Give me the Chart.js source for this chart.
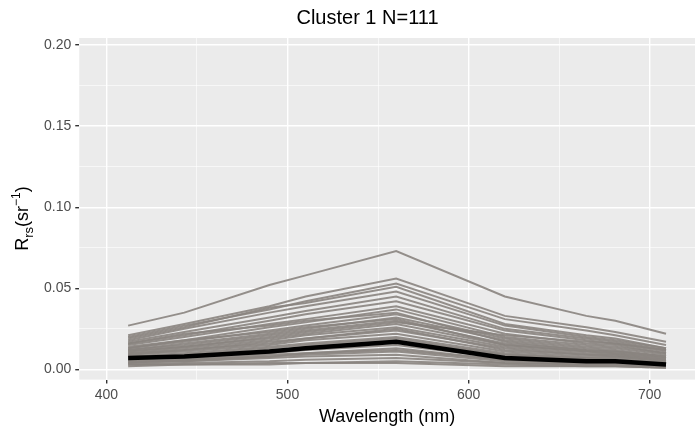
<!DOCTYPE html>
<html>
<head>
<meta charset="utf-8">
<script src="https://cdn.jsdelivr.net/npm/chart.js@4/dist/chart.umd.min.js"></script>
<style>body{margin:0;background:#fff}#wrap{width:700px;height:432px}</style>
</head>
<body>
<div id="wrap"><canvas id="c"></canvas></div>
<script>
var wavelengths = [412, 443, 490, 510, 560, 620, 665, 681, 709];

// individual spectra (Rrs, sr^-1)
var spectra = [
    [0.027, 0.035, 0.052, 0.058, 0.073, 0.045, 0.033, 0.030, 0.022],
    [0.021, 0.028, 0.039, 0.045, 0.056, 0.033, 0.026, 0.023, 0.017],
    [0.020, 0.027, 0.037, 0.042, 0.053, 0.031, 0.024, 0.021, 0.015],
    [0.019, 0.026, 0.038, 0.041, 0.051, 0.028, 0.021, 0.019, 0.013],
    [0.018, 0.025, 0.035, 0.039, 0.048, 0.027, 0.020, 0.018, 0.013],
    [0.017, 0.023, 0.032, 0.036, 0.045, 0.025, 0.019, 0.017, 0.012],
    [0.016, 0.021, 0.030, 0.034, 0.042, 0.024, 0.018, 0.016, 0.011],
    [0.015, 0.020, 0.028, 0.031, 0.039, 0.022, 0.016, 0.015, 0.010],
    [0.014, 0.018, 0.026, 0.029, 0.037, 0.020, 0.015, 0.014, 0.010],
    [0.013, 0.017, 0.024, 0.027, 0.034, 0.019, 0.014, 0.013, 0.009],
    [0.012, 0.016, 0.022, 0.025, 0.032, 0.018, 0.013, 0.012, 0.008],
    [0.012, 0.015, 0.021, 0.024, 0.030, 0.016, 0.012, 0.011, 0.008],
    [0.011, 0.014, 0.019, 0.022, 0.028, 0.015, 0.011, 0.010, 0.007],
    [0.010, 0.013, 0.018, 0.021, 0.026, 0.014, 0.010, 0.009, 0.006],
    [0.010, 0.012, 0.017, 0.019, 0.024, 0.013, 0.009, 0.009, 0.006],
    [0.009, 0.011, 0.015, 0.018, 0.022, 0.011, 0.008, 0.008, 0.005],
    [0.008, 0.010, 0.014, 0.016, 0.020, 0.010, 0.007, 0.007, 0.005],
    [0.008, 0.009, 0.013, 0.015, 0.019, 0.009, 0.007, 0.006, 0.004],
    [0.007, 0.008, 0.012, 0.013, 0.017, 0.008, 0.006, 0.006, 0.004],
    [0.006, 0.007, 0.010, 0.012, 0.015, 0.007, 0.005, 0.005, 0.003],
    [0.005, 0.006, 0.009, 0.010, 0.013, 0.006, 0.004, 0.004, 0.003],
    [0.005, 0.005, 0.008, 0.009, 0.011, 0.005, 0.004, 0.004, 0.002],
    [0.004, 0.005, 0.007, 0.008, 0.009, 0.004, 0.003, 0.003, 0.002],
    [0.003, 0.004, 0.005, 0.006, 0.007, 0.004, 0.003, 0.003, 0.002],
    [0.003, 0.003, 0.004, 0.004, 0.005, 0.003, 0.002, 0.002, 0.001],
    [0.002, 0.003, 0.003, 0.004, 0.004, 0.002, 0.002, 0.002, 0.001],
    [0.016, 0.022, 0.027, 0.030, 0.035, 0.017, 0.012, 0.011, 0.008],
    [0.013, 0.018, 0.023, 0.026, 0.031, 0.015, 0.011, 0.010, 0.007],
    [0.011, 0.014, 0.020, 0.023, 0.029, 0.021, 0.017, 0.016, 0.012],
    [0.009, 0.012, 0.016, 0.019, 0.025, 0.012, 0.009, 0.008, 0.006],
    [0.006, 0.008, 0.011, 0.014, 0.018, 0.009, 0.006, 0.006, 0.004],
    [0.004, 0.006, 0.008, 0.010, 0.012, 0.006, 0.004, 0.004, 0.003]
];

var meanSpectrum = [0.007, 0.008, 0.011, 0.013, 0.017, 0.007, 0.005, 0.005, 0.003];

var xTicks = [400, 450, 500, 550, 600, 650, 700];
var yTicks = [0, 0.025, 0.05, 0.075, 0.10, 0.125, 0.15, 0.175, 0.20];

function toPoints(vals) {
    return vals.map(function (v, i) { return {x: wavelengths[i], y: v}; });
}

var datasets = spectra.map(function (s) {
    return {data: toPoints(s), borderColor: 'rgba(138,132,127,0.9)', borderWidth: 2, pointRadius: 0, tension: 0, order: 1};
});
datasets.push({data: toPoints(meanSpectrum), borderColor: '#000', borderWidth: 4.5, pointRadius: 0, tension: 0, order: -1});

var panelBg = {
    id: 'panelBg',
    beforeDraw: function (chart) {
        var a = chart.chartArea, ctx = chart.ctx;
        ctx.save();
        ctx.fillStyle = '#EBEBEB';
        ctx.fillRect(a.left, a.top, a.right - a.left, a.bottom - a.top);
        ctx.restore();
    },
    afterDraw: function (chart) {
        var ctx = chart.ctx, a = chart.chartArea;
        var cy = (a.top + a.bottom) / 2;
        ctx.save();
        ctx.translate(22, cy);
        ctx.rotate(-Math.PI / 2);
        ctx.fillStyle = '#000';
        ctx.textBaseline = 'alphabetic';
        var x = -42;
        ctx.font = '18px Arial, "Liberation Sans"';
        ctx.fillText('R', x, 6); x += ctx.measureText('R').width;
        ctx.font = '13px Arial, "Liberation Sans"';
        ctx.fillText('rs', x, 11); x += ctx.measureText('rs').width;
        ctx.font = '18px Arial, "Liberation Sans"';
        ctx.fillText('(sr', x, 6); x += ctx.measureText('(sr').width;
        ctx.font = '12px Arial, "Liberation Sans"';
        ctx.fillText('\u22121', x, -2); x += ctx.measureText('\u22121').width;
        ctx.font = '18px Arial, "Liberation Sans"';
        ctx.fillText(')', x, 6);
        ctx.restore();
    }
};

function isMajorX(c) { return c.tick && c.tick.value % 100 === 0; }
function isMajorY(c) { return c.tick && Math.round(c.tick.value * 1000) % 50 === 0; }

new Chart('c', {
    type: 'line',
    data: {datasets: datasets},
    plugins: [panelBg],
    options: {
        responsive: true, maintainAspectRatio: false, animation: false,
        layout: {padding: {left: 40, right: 5, top: 0, bottom: 0}},
        plugins: {
            legend: {display: false}, tooltip: {enabled: false},
            title: {display: true, text: 'Cluster 1 N=111', color: '#000',
                font: {size: 20, family: 'Arial, "Liberation Sans"', weight: 'normal'}, padding: {top: 6, bottom: 8}}
        },
        scales: {
            x: {
                type: 'linear', min: 385, max: 725,
                afterBuildTicks: function (ax) { ax.ticks = xTicks.map(function (v) { return {value: v}; }); },
                grid: {color: '#fff', lineWidth: function (c) { return isMajorX(c) ? 1.4 : 0.6; },
                    tickColor: function (c) { return isMajorX(c) ? '#333' : 'rgba(0,0,0,0)'; }, tickLength: 4},
                border: {display: false},
                ticks: {autoSkip: false, maxRotation: 0, color: '#4D4D4D', font: {size: 14, family: 'Arial, "Liberation Sans"'},
                    callback: function (v) { return v % 100 === 0 ? v : ''; }},
                title: {display: true, text: 'Wavelength (nm)', color: '#000', font: {size: 18, family: 'Arial, "Liberation Sans"'}, padding: {top: 0}}
            },
            y: {
                min: -0.0063, max: 0.2044,
                afterBuildTicks: function (ax) { ax.ticks = yTicks.map(function (v) { return {value: v}; }); },
                grid: {color: '#fff', lineWidth: function (c) { return isMajorY(c) ? 1.4 : 0.6; },
                    tickColor: function (c) { return isMajorY(c) ? '#333' : 'rgba(0,0,0,0)'; }, tickLength: 4},
                border: {display: false},
                ticks: {autoSkip: false, color: '#4D4D4D', padding: 4, font: {size: 14, family: 'Arial, "Liberation Sans"'},
                    callback: function (v) { return Math.round(v * 1000) % 50 === 0 ? v.toFixed(2) : ''; }}
            }
        }
    }
});
</script>
</body>
</html>
